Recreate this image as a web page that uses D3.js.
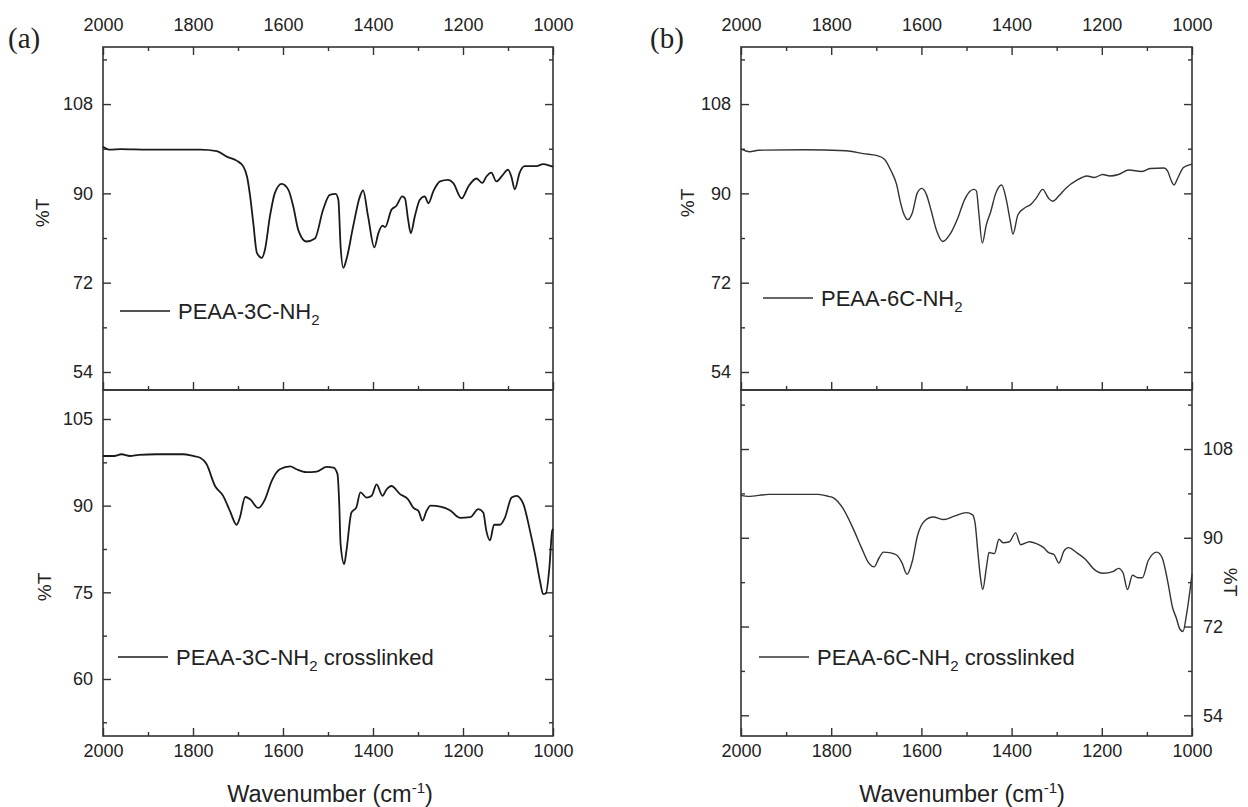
<!DOCTYPE html>
<html>
<head>
<meta charset="utf-8">
<script src="https://cdn.jsdelivr.net/npm/d3@7"></script>
<style>
  body { margin: 0; background: #fff; }
  svg { display: block; }
  text { font-family: 'Liberation Sans', Arial, sans-serif; fill: #222; }
</style>
</head>
<body>
<svg id="chart" width="1248" height="807"></svg>
<script>
// PEAA-3C-NH2
const wnA1 = [2000, 1985, 1960, 1900, 1850, 1784, 1747, 1725, 1703, 1688, 1680, 1673, 1666, 1658, 1647,
  1640, 1629, 1618, 1603, 1588, 1577, 1566, 1548, 1529, 1511, 1496, 1483, 1477, 1472, 1466, 1459, 1444,
  1429, 1422, 1411, 1397, 1388, 1379, 1373, 1359, 1348, 1335, 1329, 1322, 1316, 1307, 1296, 1285, 1277,
  1266, 1251, 1233, 1222, 1203, 1188, 1170, 1157, 1148, 1137, 1126, 1111, 1100, 1092, 1085, 1074, 1063,
  1037, 1022, 1004, 1000];
const tA1 = [99.4, 98.8, 98.9, 98.8, 98.8, 98.8, 98.5, 97.4, 96.6, 95.4, 93.4, 89.4, 84.0, 78.0, 77.0,
  78.7, 85.4, 90.1, 91.9, 90.7, 87.3, 82.6, 80.3, 80.9, 86.7, 89.7, 89.9, 88.7, 79.3, 75.0, 76.7, 83.4,
  89.4, 90.6, 85.4, 79.1, 82.0, 83.5, 83.2, 86.7, 87.5, 89.4, 89.0, 84.7, 82.0, 85.4, 88.7, 89.4, 88.0,
  90.4, 92.4, 92.7, 92.1, 89.0, 91.4, 93.0, 92.1, 93.4, 94.2, 92.4, 93.8, 94.8, 93.2, 90.8, 94.2, 95.5,
  95.5, 95.9, 95.5, 95.4];

// PEAA-3C-NH2 crosslinked
const wnA2 = [2000, 1990, 1975, 1959, 1940, 1920, 1880, 1822, 1800, 1784, 1770, 1751, 1733, 1718, 1703,
  1696, 1684, 1673, 1655, 1640, 1625, 1607, 1584, 1570, 1548, 1525, 1503, 1488, 1479, 1475, 1472, 1464,
  1459, 1448, 1437, 1428, 1414, 1403, 1392, 1379, 1370, 1359, 1340, 1322, 1310, 1299, 1290, 1281, 1272,
  1248, 1229, 1207, 1184, 1166, 1155, 1148, 1140, 1131, 1118, 1107, 1092, 1081, 1066, 1051, 1040, 1029,
  1022, 1016, 1008, 1002, 1000];
const tA2 = [98.6, 98.6, 98.6, 98.9, 98.6, 98.8, 98.9, 98.9, 98.6, 98.3, 97.2, 93.4, 91.7, 89.1, 86.7,
  87.9, 91.5, 91.1, 89.6, 91.1, 94.3, 96.3, 96.8, 96.3, 95.8, 95.9, 96.7, 96.6, 95.5, 90.3, 83.3, 79.9,
  82.2, 88.8, 89.7, 92.3, 91.4, 91.7, 93.7, 91.7, 92.8, 93.4, 92.0, 91.1, 89.6, 89.1, 87.4, 89.1, 90.0,
  89.8, 89.2, 87.9, 88.0, 89.4, 88.8, 85.6, 84.0, 86.7, 86.7, 87.9, 91.4, 91.7, 90.3, 85.6, 81.6, 77.0,
  74.7, 74.8, 79.3, 85.6, 86.0];

// PEAA-6C-NH2
const wnB1 = [2000, 1981, 1961, 1860, 1767, 1729, 1698, 1682, 1667, 1655, 1647, 1640, 1630, 1620, 1609,
  1599, 1589, 1578, 1566, 1553, 1535, 1519, 1504, 1484, 1478, 1473, 1465, 1456, 1446, 1436, 1422, 1411,
  1403, 1397, 1386, 1372, 1357, 1345, 1331, 1318, 1309, 1295, 1279, 1256, 1233, 1217, 1198, 1182, 1163,
  1140, 1112, 1093, 1062, 1054, 1047, 1040, 1031, 1019, 1000];
const tB1 = [98.9, 98.4, 98.7, 98.8, 98.6, 98.0, 97.6, 96.9, 94.5, 91.8, 88.4, 86.1, 84.7, 86.1, 90.1,
  91.0, 89.8, 86.4, 82.4, 80.3, 82.0, 85.1, 88.8, 90.8, 90.5, 86.4, 80.0, 83.7, 86.4, 89.8, 91.7, 88.4,
  84.4, 81.8, 85.7, 87.0, 87.8, 89.1, 90.8, 89.0, 88.4, 89.5, 91.1, 92.6, 93.5, 93.2, 93.8, 93.5, 93.8,
  94.7, 94.4, 95.0, 95.1, 94.5, 92.8, 91.7, 93.2, 95.2, 95.9];

// PEAA-6C-NH2 crosslinked
const wnB2 = [2000, 1984, 1938, 1829, 1806, 1795, 1775, 1752, 1733, 1717, 1705, 1694, 1684, 1671, 1655,
  1643, 1632, 1620, 1609, 1593, 1574, 1550, 1527, 1500, 1487, 1481, 1475, 1469, 1464, 1456, 1450, 1438,
  1428, 1419, 1405, 1391, 1380, 1360, 1345, 1329, 1318, 1306, 1295, 1284, 1274, 1256, 1236, 1217, 1198,
  1174, 1163, 1153, 1143, 1132, 1120, 1110, 1097, 1078, 1066, 1054, 1043, 1035, 1027, 1020, 1012, 1000];
const tB2 = [98.6, 98.4, 98.8, 98.8, 98.4, 98.1, 96.1, 92.0, 88.0, 84.9, 84.1, 85.9, 87.1, 87.0, 86.5,
  84.9, 82.6, 85.3, 90.3, 93.4, 94.2, 93.7, 94.4, 95.1, 94.7, 93.0, 87.3, 81.9, 79.5, 83.9, 87.0, 86.8,
  89.7, 89.0, 89.2, 91.0, 88.6, 89.2, 88.8, 88.0, 87.0, 86.6, 84.9, 87.3, 88.0, 87.0, 85.6, 83.6, 82.8,
  83.2, 83.8, 82.9, 79.5, 82.4, 81.9, 81.9, 85.4, 87.1, 85.9, 81.2, 75.8, 73.8, 71.5, 71.0, 74.5, 82.6];

// ticks
const xMajor = [2000, 1800, 1600, 1400, 1200, 1000];
const xMinor = [1900, 1700, 1500, 1300, 1100];
const yMajor18 = [54, 72, 90, 108];
const yMinor18 = [63, 81, 99, 117];
const yMajor15 = [60, 75, 90, 105];
const yMinor15 = [52.5, 67.5, 82.5, 97.5];

const svg = d3.select('#chart');
const frameColor = '#333';

function drawPanel(p) {
  const x = d3.scaleLinear().domain([2000, 1000]).range([p.left, p.right]);
  const y = d3.scaleLinear().domain(p.yDomain).range([p.bottom, p.top]);
  const g = svg.append('g');
  const minor = p.yMinor.filter((v) => v > p.yDomain[0] && v < p.yDomain[1]);

  // y ticks, left and right, pointing inward
  const left = d3.axisLeft(y).tickValues(p.yMajor).tickSize(-8).tickPadding(10);
  const right = d3.axisRight(y).tickValues(p.yMajor).tickSize(-8).tickPadding(11);
  if (p.labelSide !== 'left') left.tickFormat('');
  if (p.labelSide !== 'right') right.tickFormat('');
  g.append('g').attr('transform', 'translate(' + p.left + ',0)').call(left);
  g.append('g').attr('transform', 'translate(' + p.right + ',0)').call(right);
  g.append('g').attr('transform', 'translate(' + p.left + ',0)')
    .call(d3.axisLeft(y).tickValues(minor).tickSize(-4).tickFormat(''));
  g.append('g').attr('transform', 'translate(' + p.right + ',0)')
    .call(d3.axisRight(y).tickValues(minor).tickSize(-4).tickFormat(''));

  // x ticks
  if (p.xTop) {
    g.append('g').attr('transform', 'translate(0,' + p.top + ')')
      .call(d3.axisTop(x).tickValues(xMajor).tickSize(-8).tickPadding(16).tickFormat(d3.format('d')));
    g.append('g').attr('transform', 'translate(0,' + p.top + ')')
      .call(d3.axisTop(x).tickValues(xMinor).tickSize(-4).tickFormat(''));
  }
  const bottomAxis = d3.axisBottom(x).tickValues(xMajor).tickSize(-8).tickPadding(8);
  if (p.xBottomLabels) bottomAxis.tickFormat(d3.format('d'));
  else bottomAxis.tickFormat('');
  g.append('g').attr('transform', 'translate(0,' + p.bottom + ')').call(bottomAxis);
  g.append('g').attr('transform', 'translate(0,' + p.bottom + ')')
    .call(d3.axisBottom(x).tickValues(xMinor).tickSize(-4).tickFormat(''));

  g.selectAll('.domain').remove();
  g.selectAll('.tick line').attr('stroke', frameColor).attr('stroke-width', 1.4);
  g.selectAll('.tick text').style('font-size', '18px').attr('fill', '#222');

  g.append('rect')
    .attr('x', p.left).attr('y', p.top)
    .attr('width', p.right - p.left).attr('height', p.bottom - p.top)
    .attr('fill', 'none').attr('stroke', frameColor).attr('stroke-width', 1.6);

  // spectrum
  const line = d3.line()
    .x((d) => x(d[0]))
    .y((d) => y(d[1]))
    .curve(d3.curveMonotoneX);
  g.append('path')
    .datum(d3.zip(p.wn, p.t))
    .attr('d', line)
    .attr('fill', 'none')
    .attr('stroke', p.color)
    .attr('stroke-width', p.width)
    .attr('stroke-linejoin', 'round');

  // legend
  g.append('line')
    .attr('x1', p.legend[0]).attr('x2', p.legend[0] + 50)
    .attr('y1', p.legend[1]).attr('y2', p.legend[1])
    .attr('stroke', p.color).attr('stroke-width', 1.4);
  const lt = g.append('text')
    .attr('x', p.legend[0] + 58).attr('y', p.legend[1] + 8)
    .style('font-size', '22px');
  lt.append('tspan').text(p.name);
  lt.append('tspan').attr('dy', 6).style('font-size', '15px').text('2');
  if (p.suffix) lt.append('tspan').attr('dy', -6).text(' ' + p.suffix);

  // y label
  if (p.yLabel) {
    svg.append('text')
      .attr('transform', 'translate(' + p.yLabel[0] + ',' + p.yLabel[1] + ') rotate(' + p.yLabel[2] + ')')
      .attr('text-anchor', 'middle')
      .attr('dominant-baseline', 'central')
      .style('font-size', '19px')
      .text('%T');
  }
}

drawPanel({
  left: 103, right: 553, top: 47, bottom: 390,
  yDomain: [50.37, 119.5], yMajor: yMajor18, yMinor: yMinor18, labelSide: 'left',
  xTop: true, xBottomLabels: false,
  wn: wnA1, t: tA1, color: '#1a1a1a', width: 1.8,
  legend: [120, 311], name: 'PEAA-3C-NH', yLabel: [42, 213, -90],
});
drawPanel({
  left: 103, right: 553, top: 390, bottom: 736,
  yDomain: [50.13, 110.02], yMajor: yMajor15, yMinor: yMinor15, labelSide: 'left',
  xTop: false, xBottomLabels: true,
  wn: wnA2, t: tA2, color: '#1a1a1a', width: 1.8,
  legend: [118, 657], name: 'PEAA-3C-NH', suffix: 'crosslinked', yLabel: [44, 587, -90],
});
drawPanel({
  left: 741, right: 1192, top: 47, bottom: 390,
  yDomain: [50.37, 119.5], yMajor: yMajor18, yMinor: yMinor18, labelSide: 'left',
  xTop: true, xBottomLabels: false,
  wn: wnB1, t: tB1, color: '#333', width: 1.4,
  legend: [763, 298], name: 'PEAA-6C-NH', yLabel: [687, 203, -90],
});
drawPanel({
  left: 741, right: 1192, top: 390, bottom: 736,
  yDomain: [49.8, 119.97], yMajor: yMajor18, yMinor: yMinor18, labelSide: 'right',
  xTop: false, xBottomLabels: true,
  wn: wnB2, t: tB2, color: '#333', width: 1.4,
  legend: [759, 657], name: 'PEAA-6C-NH', suffix: 'crosslinked', yLabel: [1230, 582, 90],
});

// x titles
[[330, 'a'], [962, 'b']].forEach((d) => {
  const t = svg.append('text')
    .attr('x', d[0]).attr('y', 802)
    .attr('text-anchor', 'middle')
    .style('font-size', '23.5px');
  t.append('tspan').text('Wavenumber (cm');
  t.append('tspan').attr('dy', -9).style('font-size', '15px').text('-1');
  t.append('tspan').attr('dy', 9).text(')');
});

// panel letters
svg.append('text').attr('x', 8).attr('y', 48)
  .style('font-family', "'Liberation Serif', 'Times New Roman', serif").style('font-size', '29px').text('(a)');
svg.append('text').attr('x', 650).attr('y', 48)
  .style('font-family', "'Liberation Serif', 'Times New Roman', serif").style('font-size', '29px').text('(b)');
</script>
</body>
</html>
